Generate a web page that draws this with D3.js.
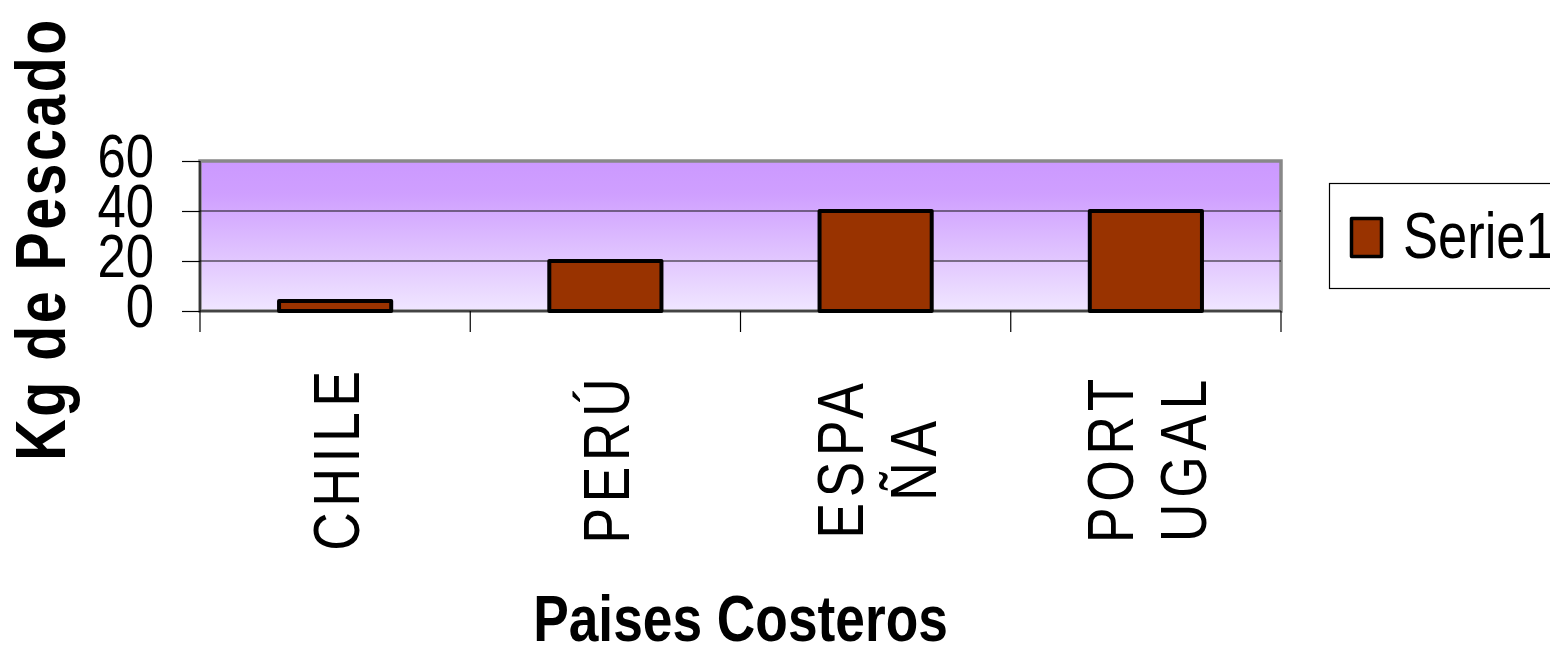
<!DOCTYPE html>
<html>
<head>
<meta charset="utf-8">
<script src="https://cdn.jsdelivr.net/npm/d3@7"></script>
<style>
html,body{margin:0;padding:0;background:#fff;overflow:hidden;}
svg{display:block;}
</style>
</head>
<body>
<svg id="chart" width="1550" height="648"></svg>
<script>
// ---- data ----
const categories = ["CHILE", "PERÚ", "ESPAÑA", "PORTUGAL"];
const categoryLines = [["CHILE"], ["PERÚ"], ["ESPA", "ÑA"], ["PORT", "UGAL"]];
const values = [4, 20, 40, 40];
const yTicks = [0, 20, 40, 60];
const seriesName = "Serie1";
const xTitle = "Paises Costeros";
const yTitle = "Kg de Pescado";

// ---- font detection (narrow) ----
function narrowAvailable() {
  const c = document.createElement("canvas").getContext("2d");
  c.font = "60px 'Liberation Sans Narrow'";
  const a = c.measureText("Serie1 PORTUGAL").width;
  c.font = "60px 'Liberation Sans'";
  const b = c.measureText("Serie1 PORTUGAL").width;
  return a < b * 0.92;
}
const hasNarrow = narrowAvailable();
const FAM = hasNarrow ? "'Liberation Sans Narrow', 'Arial Narrow', sans-serif" : "'Liberation Sans', Arial, sans-serif";
const SX = hasNarrow ? 1 : 0.82;

const svg = d3.select("#chart");
const L = 200, R = 1281, T = 161, B = 311;

const x = d3.scaleBand().domain(categories).range([L, R]).paddingInner(0.585).paddingOuter(0.2925);
const xb = d3.scaleBand().domain(categories).range([L, R]).padding(0);
const y = d3.scaleLinear().domain([0, 60]).range([B, T]);

// gradient
const defs = svg.append("defs");
const g = defs.append("linearGradient").attr("id", "bg").attr("x1", 0).attr("y1", 0).attr("x2", 0).attr("y2", 1);
g.append("stop").attr("offset", "0%").attr("stop-color", "#cc99ff");
g.append("stop").attr("offset", "22%").attr("stop-color", "#cf9fff");
g.append("stop").attr("offset", "100%").attr("stop-color", "#f0e6ff");

// plot area
svg.append("rect").attr("x", L).attr("y", T).attr("width", R - L).attr("height", B - T)
  .attr("fill", "url(#bg)").attr("stroke", "#888").attr("stroke-width", 3.5);

// gridlines
svg.append("g").selectAll("line").data(yTicks.filter(d => d > 0 && d < 60)).join("line")
  .attr("x1", L).attr("x2", R).attr("y1", d => y(d)).attr("y2", d => y(d))
  .attr("stroke", "#111").attr("stroke-width", 1.2);

// bars
svg.append("g").selectAll("rect").data(values).join("rect")
  .attr("x", (d, i) => x(categories[i]))
  .attr("width", x.bandwidth())
  .attr("y", d => y(d))
  .attr("height", d => y(0) - y(d))
  .attr("fill", "#993300").attr("stroke", "#000").attr("stroke-width", 4)
  .attr("stroke-linejoin", "round");

// axes
const yAxis = d3.axisLeft(y).tickValues(yTicks).tickSize(18).tickFormat("");
const ya = svg.append("g").attr("transform", `translate(${L},0)`).call(yAxis);
ya.select(".domain").remove();
ya.selectAll(".tick line").attr("stroke", "#000").attr("stroke-width", 1.2);
svg.append("line").attr("x1", L).attr("x2", L).attr("y1", T).attr("y2", B + 21).attr("stroke", "#000").attr("stroke-width", 1.2);
svg.append("line").attr("x1", L).attr("x2", R).attr("y1", B).attr("y2", B).attr("stroke", "#000").attr("stroke-width", 1.2);

const bounds = categories.map(c => xb(c) + xb.bandwidth());
svg.append("g").selectAll("line").data(bounds).join("line")
  .attr("x1", d => d).attr("x2", d => d).attr("y1", B).attr("y2", B + 21)
  .attr("stroke", "#000").attr("stroke-width", 1.2);

// y tick labels
svg.append("g").selectAll("text").data(yTicks).join("text")
  .attr("transform", d => `translate(154,${y(d) + 16}) scale(${SX},1)`)
  .attr("text-anchor", "end")
  .attr("font-family", FAM).attr("font-size", 62).attr("fill", "#000")
  .text(d => d);

// category labels
const lineGap = 73;
const catG = svg.append("g").selectAll("g").data(categoryLines).join("g")
  .attr("transform", (d, i) => `translate(${x(categories[i]) + x.bandwidth() / 2},458) rotate(-90)`);
catG.each(function(lines) {
  const n = lines.length;
  d3.select(this).selectAll("text").data(lines).join("text")
    .attr("transform", (t, j) => `translate(0,${23.5 + (j - (n - 1) / 2) * lineGap}) scale(${SX},1)`)
    .attr("text-anchor", "middle")
    .attr("font-family", FAM).attr("font-size", 65).attr("letter-spacing", 7)
    .attr("fill", "#000")
    .text(t => t);
});

// x title
svg.append("text")
  .attr("transform", `translate(${(L + R) / 2},641) scale(${SX},1)`)
  .attr("text-anchor", "middle")
  .attr("font-family", FAM).attr("font-weight", "bold").attr("font-size", 65)
  .text(xTitle);

// y title
svg.append("text")
  .attr("transform", `translate(65,239) rotate(-90) scale(${SX},1)`)
  .attr("text-anchor", "middle")
  .attr("font-family", FAM).attr("font-weight", "bold").attr("font-size", 70)
  .attr("letter-spacing", 3)
  .text(yTitle);

// legend
const lg = svg.append("g");
lg.append("rect").attr("x", 1329.5).attr("y", 183.5).attr("width", 260).attr("height", 105)
  .attr("fill", "#fff").attr("stroke", "#000").attr("stroke-width", 1.2);
lg.append("rect").attr("x", 1351.5).attr("y", 218.5).attr("width", 30).attr("height", 38)
  .attr("fill", "#993300").attr("stroke", "#000").attr("stroke-width", 3.5).attr("stroke-linejoin", "round");
lg.append("text")
  .attr("transform", `translate(1403,258) scale(${SX},1)`)
  .attr("font-family", FAM).attr("font-size", 64)
  .text(seriesName);
</script>
</body>
</html>
